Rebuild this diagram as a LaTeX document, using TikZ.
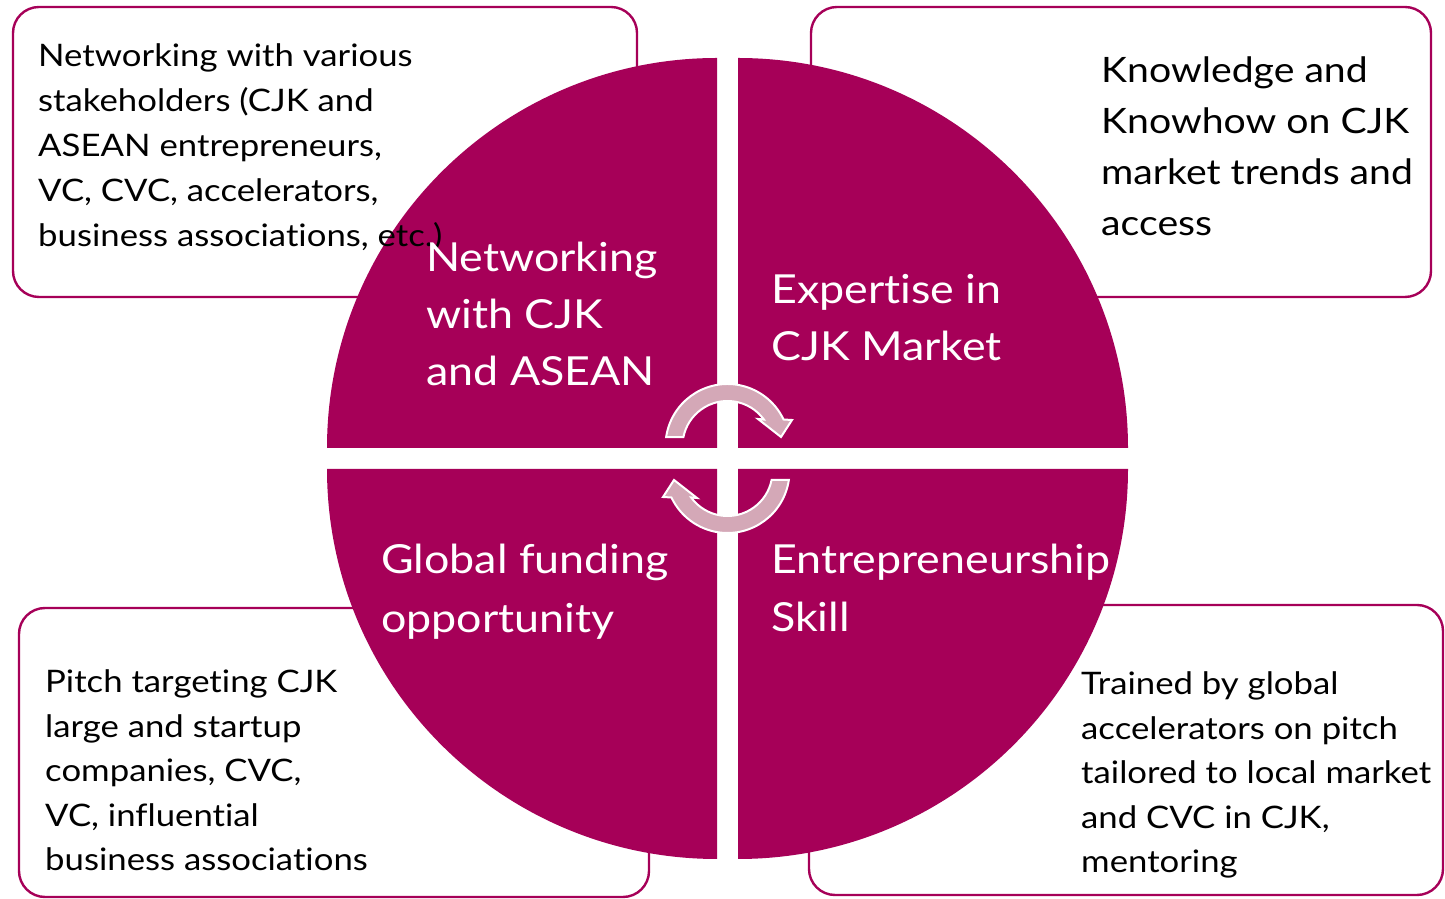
\documentclass[tikz,border=0pt]{standalone}
\usepackage{fontspec}
\setmainfont{Lato}[FakeStretch=1.12,Ligatures={NoCommon}]
\definecolor{mag}{RGB}{166,0,88}
\definecolor{pinkarrow}{RGB}{212,168,183}
\tikzset{
  infobox/.style={draw=mag, line width=2.4pt, rounded corners=26pt, fill=white},
  quad/.style={fill=mag},
  boxtext/.style={anchor=base west, inner sep=0pt, text=black},
  quadtext/.style={anchor=base west, inner sep=0pt, text=white},
  cyclearrow/.style={fill=pinkarrow, draw=white, line width=2pt, line join=miter},
  pics/cyclearr/.style={code={
    \path[cyclearrow] (171.7:62) arc[start angle=171.7,end angle=25.3,radius=62]
      -- (64.5,26) -- (53.5,9) -- (30.5,27)
      -- (36:45) arc[start angle=36,end angle=168.5,radius=45] -- cycle;
  }}
}
\newcommand{\txt}[4]{\parbox[t]{#1}{\fontsize{#2}{#3}\selectfont #4}}
\begin{document}
\begin{tikzpicture}[x=1pt,y=1pt]
\useasboundingbox (0,0) rectangle (1445,899);
% info boxes (behind the circle)
\draw[infobox] (13,602) rectangle (637,892);
\draw[infobox] (811,602) rectangle (1431,892);
\draw[infobox] (19,2) rectangle (649,291);
\draw[infobox] (809,4) rectangle (1443,294);
% quadrants
\fill[quad] (738,451) -- (1128,451) arc[start angle=0,end angle=90,radius=390] -- cycle;
\fill[quad] (717,451) -- (717,841) arc[start angle=90,end angle=180,radius=390] -- cycle;
\fill[quad] (717,430) -- (327,430) arc[start angle=180,end angle=270,radius=390] -- cycle;
\fill[quad] (738,430) -- (738,40) arc[start angle=270,end angle=360,radius=390] -- cycle;
% cycle arrows
\pic at (727.5,453) {cyclearr};
\pic[rotate=180] at (727.5,428) {cyclearr};
% box texts
\node[boxtext] (tltext) at (38,832) {\txt{600pt}{31}{45}{Networking with various\\stakeholders (CJK and\\ASEAN entrepreneurs,\\VC, CVC, accelerators,\\business associations, etc.)}};
\node[boxtext] (trtext) at (1101,816) {\txt{340pt}{35}{51}{Knowledge and\\Knowhow on CJK\\market trends and\\access}};
\node[boxtext] (bltext) at (45,206) {\txt{400pt}{31}{44.5}{Pitch targeting CJK\\large and startup\\companies, CVC,\\VC, influential\\business associations}};
\node[boxtext] (brtext) at (1081,204) {\txt{400pt}{31}{44.5}{Trained by global\\accelerators on pitch\\tailored to local market\\and CVC in CJK,\\mentoring}};
% quadrant texts
\node[quadtext] (q1) at (426,627) {\txt{300pt}{40}{57}{Networking\\with CJK\\and ASEAN}};
\node[quadtext] (q2) at (771,595) {\txt{340pt}{40}{57}{Expertise in\\CJK Market}};
\node[quadtext] (q3) at (381,325) {\txt{330pt}{40}{59}{Global funding\\opportunity}};
\node[quadtext] (q4) at (771,325) {\txt{360pt}{40}{58}{Entrepreneurship\\Skill}};
\end{tikzpicture}
\end{document}
